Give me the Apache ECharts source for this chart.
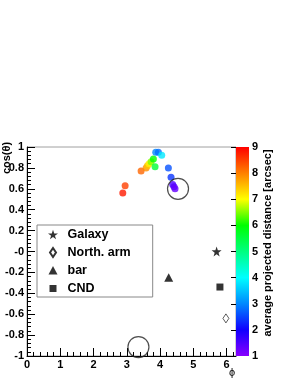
<!DOCTYPE html>
<html>
<head>
<meta charset="utf-8">
<script src="https://cdn.jsdelivr.net/npm/echarts@6/dist/echarts.min.js"></script>
<style>html,body{margin:0;padding:0;background:#fff;}#c{width:295px;height:382px;}</style>
</head>
<body>
<div id="c"></div>
<script>
// ---- data ----
// colored points: [phi, cos(theta), average projected distance]
var pointsPhi = [2.88, 2.95, 3.43, 3.58, 3.62, 3.67, 3.73, 3.80, 3.85, 3.87, 3.95, 4.05, 4.25, 4.33, 4.38, 4.42, 4.45];
var pointsCos = [0.56, 0.63, 0.77, 0.80, 0.82, 0.84, 0.86, 0.885, 0.81, 0.95, 0.95, 0.92, 0.80, 0.71, 0.64, 0.62, 0.60];
var pointsDist = [8.8, 8.5, 8.2, 7.9, 7.5, 7.1, 6.5, 6.0, 5.6, 3.0, 2.8, 3.8, 2.6, 2.4, 1.5, 1.4, 1.3];
// reference objects
var refNames = ['Galaxy', 'North. arm', 'bar', 'CND'];
var refPhi = [5.70, 5.98, 4.26, 5.80];
var refCos = [0.0, -0.64, -0.25, -0.34];
// open circles
var circlePhi = [4.54, 3.35];
var circleCos = [0.60, -0.915];
// axis ticks
var xTickLabels = ['0', '1', '2', '3', '4', '5', '6'];
var yTickLabels = ['-1', '-0.8', '-0.6', '-0.4', '-0.2', '-0', '0.2', '0.4', '0.6', '0.8', '1'];
var cbarTickLabels = ['1', '2', '3', '4', '5', '6', '7', '8', '9'];
var cbarMin = 1, cbarMax = 9;
var palette = ['#8800ff', '#1000ff', '#0088ff', '#00ffff', '#00ff80', '#00ff00', '#ffff00', '#ff8000', '#ff0000'];

var FONT = 'Liberation Sans';
var starPath = 'path://M50,0 L61.8,35.1 L98.1,35.1 L68.6,56.7 L79.4,91 L50,70 L20.6,91 L31.4,56.7 L1.9,35.1 L38.2,35.1 Z';
var diamondPath = 'path://M0,0 M10,10 M5,0.5 L8,5 L5,9.5 L2,5 Z';
var trianglePath = 'path://M0,0 M10,10 M5,0.5 L9.5,9 L0.5,9 Z';
var squarePath = 'path://M0,0 M10,10 M1.5,1.5 L8.5,1.5 L8.5,8.5 L1.5,8.5 Z';
var refSymbols = [starPath, diamondPath, trianglePath, squarePath];
var refSizes = [10, 10, 10, 10];

var chart = echarts.init(document.getElementById('c'));

var pts = pointsPhi.map(function (p, i) { return [p, pointsCos[i], pointsDist[i]]; });

var series = [{
  type: 'scatter', xAxisIndex: 0, yAxisIndex: 0,
  data: pts, symbolSize: 7, z: 3
}];
refNames.forEach(function (n, i) {
  var empty = i === 1;
  series.push({
    type: 'scatter', name: n, xAxisIndex: 0, yAxisIndex: 0,
    data: [[refPhi[i], refCos[i]]],
    symbol: refSymbols[i], symbolSize: refSizes[i],
    itemStyle: empty ? { color: '#fff', borderColor: '#000', borderWidth: 0.8 } : { color: '#000', borderWidth: 0 },
    z: 4
  });
});
series.push({
  type: 'scatter', xAxisIndex: 0, yAxisIndex: 0,
  data: circlePhi.map(function (p, i) { return [p, circleCos[i]]; }),
  symbol: 'circle', symbolSize: 21,
  itemStyle: { color: 'rgba(0,0,0,0)', borderColor: '#222', borderWidth: 1.2 },
  z: 5, silent: true
});
// colorbar
var stops = palette.map(function (c, i) { return { offset: 1 - i / (palette.length - 1), color: c }; }).reverse();
series.push({
  type: 'custom', xAxisIndex: 1, yAxisIndex: 1,
  data: [[0, cbarMin, cbarMax]],
  renderItem: function (params, api) {
    var p1 = api.coord([0, api.value(2)]);
    var p2 = api.coord([1, api.value(1)]);
    return {
      type: 'rect',
      shape: { x: p1[0], y: p1[1], width: p2[0] - p1[0], height: p2[1] - p1[1] },
      style: { fill: new echarts.graphic.LinearGradient(0, 0, 0, 1, stops) }
    };
  },
  z: 1
});

var axisTxt = { color: '#000', fontFamily: FONT, fontWeight: 'bold', fontSize: 11 };

chart.setOption({
  animation: false,
  backgroundColor: '#fff',
  grid: [
    { left: 27, right: 59, top: 147, bottom: 26, show: true, borderColor: '#a0a0a0', borderWidth: 1, backgroundColor: 'transparent' },
    { left: 236, width: 13, top: 147, bottom: 26 }
  ],
  visualMap: {
    type: 'continuous', show: false, min: cbarMin, max: cbarMax, dimension: 2, seriesIndex: 0,
    inRange: { color: palette }
  },
  legend: {
    orient: 'vertical', left: 37, top: 225,
    padding: [3, 22, 2, 10],
    itemWidth: 10, itemHeight: 10, itemGap: 5,
    borderColor: '#888', borderWidth: 1, backgroundColor: '#fff',
    textStyle: { fontFamily: FONT, fontWeight: 'bold', fontSize: 12.5, lineHeight: 12, color: '#000', padding: [0, 0, 0, 4.5] },
    data: refNames.map(function (n, i) { return { name: n, icon: refSymbols[i] }; }),
    selectedMode: false
  },
  xAxis: [{
    gridIndex: 0, type: 'value', min: 0, max: 6.283, interval: 1,
    axisLine: { show: true, onZero: false, lineStyle: { color: '#000', width: 1 } },
    axisTick: { show: true, inside: true, length: 8, lineStyle: { color: '#000' } },
    minorTick: { show: true, splitNumber: 5, length: 4, lineStyle: { color: '#000' } },
    splitLine: { show: false },
    axisLabel: Object.assign({ margin: 3, showMaxLabel: false, formatter: function (v) {
      var r = Math.round(v); return Math.abs(v - r) < 1e-6 && r >= 0 && r < xTickLabels.length ? xTickLabels[r] : '';
    } }, axisTxt)
  }, {
    gridIndex: 1, type: 'value', min: 0, max: 1, show: false
  }],
  yAxis: [{
    gridIndex: 0, type: 'value', min: -1, max: 1, interval: 0.2,
    axisLine: { show: true, onZero: false, lineStyle: { color: '#000', width: 1 } },
    axisTick: { show: true, inside: true, length: 8, lineStyle: { color: '#000' } },
    minorTick: { show: true, splitNumber: 5, length: 4, lineStyle: { color: '#000' } },
    splitLine: { show: false },
    axisLabel: Object.assign({ margin: 3, formatter: function (v) {
      var k = Math.round((v + 1) / 0.2); return yTickLabels[k] || '';
    } }, axisTxt)
  }, {
    gridIndex: 1, type: 'value', min: cbarMin, max: cbarMax, interval: 1, position: 'right',
    axisLine: { show: false },
    axisTick: { show: true, inside: true, length: 5, lineStyle: { color: '#000' } },
    splitLine: { show: false },
    axisLabel: Object.assign({ margin: 3, formatter: function (v) {
      var k = Math.round(v - cbarMin); return cbarTickLabels[k] || '';
    } }, axisTxt)
  }],
  graphic: [
    { type: 'text', x: 7, y: 158, rotation: Math.PI / 2,
      style: { text: 'cos(θ)', fontFamily: FONT, fontWeight: 'bold', fontSize: 11, fill: '#000', textAlign: 'center', textVerticalAlign: 'middle' } },
    { type: 'text', x: 232, y: 373,
      style: { text: 'ϕ', fontFamily: FONT, fontSize: 11, fill: '#000', textAlign: 'center', textVerticalAlign: 'middle' } },
    { type: 'text', x: 268, y: 243, rotation: Math.PI / 2,
      style: { text: 'average projected distance [arcsec]', fontFamily: FONT, fontWeight: 'bold', fontSize: 11, fill: '#000', textAlign: 'center', textVerticalAlign: 'middle' } }
  ],
  series: series
});
</script>
</body>
</html>
